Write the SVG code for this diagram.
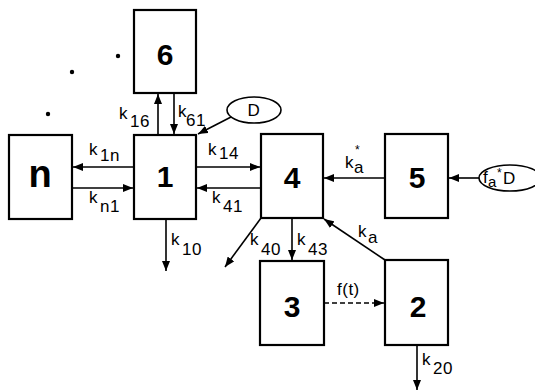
<svg xmlns="http://www.w3.org/2000/svg" width="535" height="392" viewBox="0 0 535 392">
<defs>
<marker id="ah" viewBox="0 0 10 8" refX="10" refY="4" markerWidth="10" markerHeight="8" markerUnits="userSpaceOnUse" orient="auto">
<path d="M0,0 L10,4 L0,8 z" fill="#000"/>
</marker>
</defs>
<style>
.box{fill:#fff;stroke:#000;stroke-width:2.2}
.num{font-family:"Liberation Sans",Arial,sans-serif;font-weight:bold;font-size:30px;text-anchor:middle}
.lbl{font-family:"Liberation Sans",Arial,sans-serif;font-size:17px;letter-spacing:0.5px}
.ln{stroke:#000;stroke-width:1.6;fill:none}
.arr{stroke:#000;stroke-width:1.6;fill:none;marker-end:url(#ah)}
.ell{fill:#fff;stroke:#000;stroke-width:1.6}
</style>
<rect width="535" height="392" fill="#fff"/>
<g id="connectors">
<line class="arr" x1="158" y1="135" x2="158" y2="94"/>
<line class="arr" x1="174" y1="93" x2="174" y2="134"/>
<line class="arr" x1="134" y1="167" x2="73" y2="167"/>
<line class="arr" x1="72" y1="188" x2="133" y2="188"/>
<line class="arr" x1="196" y1="167" x2="260" y2="167"/>
<line class="arr" x1="261" y1="188" x2="197" y2="188"/>
<line class="arr" x1="231" y1="117" x2="198" y2="134"/>
<line class="arr" x1="385" y1="178" x2="324" y2="178"/>
<line class="arr" x1="479" y1="178" x2="449" y2="178"/>
<line class="arr" x1="166" y1="219" x2="166" y2="271"/>
<line class="arr" x1="261" y1="218" x2="225" y2="267"/>
<line class="arr" x1="292" y1="218" x2="292" y2="260"/>
<line class="arr" x1="385" y1="260" x2="324" y2="219"/>
<line class="arr" x1="324" y1="303" x2="384" y2="303" stroke-dasharray="5,3"/>
<line class="arr" x1="417" y1="345" x2="417" y2="390"/>
</g>
<g id="dots">
<circle cx="118" cy="56" r="2.2"/>
<circle cx="72" cy="72" r="2.2"/>
<circle cx="48" cy="114" r="2.2"/>
</g>
<g id="node-6"><rect class="box" x="134" y="10" width="62" height="83"/><text class="num" x="165" y="65">6</text></g>
<g id="node-1"><rect class="box" x="134" y="135" width="62" height="84"/><text class="num" x="165" y="187">1</text></g>
<g id="node-n"><rect class="box" x="9" y="135" width="63" height="84"/><text class="num" x="40" y="187" style="font-size:38px">n</text></g>
<g id="node-4"><rect class="box" x="261" y="134" width="62" height="84"/><text class="num" x="292" y="188">4</text></g>
<g id="node-5"><rect class="box" x="385" y="134" width="63" height="84"/><text class="num" x="417" y="188">5</text></g>
<g id="node-3"><rect class="box" x="260" y="261" width="64" height="84"/><text class="num" x="292" y="317">3</text></g>
<g id="node-2"><rect class="box" x="385" y="260" width="63" height="85"/><text class="num" x="418" y="317">2</text></g>
<g id="node-D"><ellipse class="ell" cx="254" cy="110" rx="27" ry="13"/><text class="lbl" x="254" y="116" text-anchor="middle">D</text></g>
<g id="node-faD"><ellipse class="ell" cx="510" cy="178" rx="31" ry="13"/>
<text class="lbl" x="483" y="183">f</text><text class="lbl" x="488" y="187" style="font-size:15px">a</text><text class="lbl" x="497" y="177" style="font-size:12px">*</text><text class="lbl" x="503" y="184">D</text></g>
<g id="labels">
<text class="lbl" x="119" y="119">k<tspan dx="2" dy="8">16</tspan></text>
<text class="lbl" x="178" y="117">k<tspan dx="-1" dy="9">61</tspan></text>
<text class="lbl" x="89" y="155">k<tspan dx="2" dy="6">1n</tspan></text>
<text class="lbl" x="89" y="203">k<tspan dx="2" dy="9">n1</tspan></text>
<text class="lbl" x="208" y="155">k<tspan dx="2" dy="4">14</tspan></text>
<text class="lbl" x="212" y="203">k<tspan dx="2" dy="9">41</tspan></text>
<text class="lbl" x="345" y="168">k</text><text class="lbl" x="355" y="154" style="font-size:12px">*</text><text class="lbl" x="354" y="173">a</text>
<text class="lbl" x="171" y="245">k<tspan dx="2" dy="10">10</tspan></text>
<text class="lbl" x="250" y="245">k<tspan dx="2" dy="10">40</tspan></text>
<text class="lbl" x="297" y="245">k<tspan dx="2" dy="10">43</tspan></text>
<text class="lbl" x="358" y="237">k<tspan dx="1" dy="6">a</tspan></text>
<text class="lbl" x="337" y="295">f(t)</text>
<text class="lbl" x="422" y="365">k<tspan dx="2" dy="9">20</tspan></text>
</g>
</svg>
